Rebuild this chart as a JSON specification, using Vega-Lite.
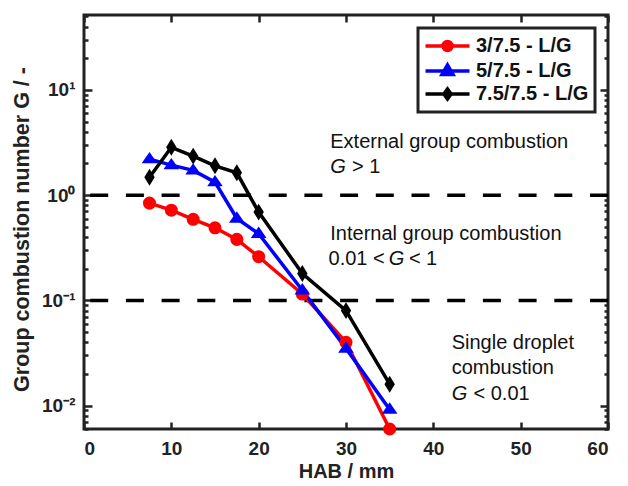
{
  "$schema": "https://vega.github.io/schema/vega-lite/v6.json",
  "width": 524,
  "height": 414,
  "autosize": "none",
  "padding": {"left": 84, "top": 15, "right": 20, "bottom": 57},
  "background": "white",
  "config": {
    "font": "Liberation Sans",
    "view": {"stroke": "#222", "strokeWidth": 3},
    "axis": {"grid": false, "domain": false, "tickColor": "#222", "labelColor": "#222", "titleColor": "#222", "labelFont": "Liberation Sans", "titleFont": "Liberation Sans"},
    "legend": {"orient": "top-right", "offset": 13, "title": null, "padding": 6, "rowPadding": 0,
      "labelFontSize": 20, "labelFontWeight": "bold", "labelColor": "#111", "labelFont": "Liberation Sans",
      "symbolSize": 400, "symbolOffset": 11.5, "labelOffset": 16.5, "symbolStrokeWidth": 3.5,
      "strokeColor": "#222", "fillColor": "white", "strokeWidth": 3}
  },
  "datasets": {
    "series": [
      {"HAB": 7.5, "G": 0.84, "case": "3/7.5 - L/G"},
      {"HAB": 10, "G": 0.72, "case": "3/7.5 - L/G"},
      {"HAB": 12.5, "G": 0.59, "case": "3/7.5 - L/G"},
      {"HAB": 15, "G": 0.49, "case": "3/7.5 - L/G"},
      {"HAB": 17.5, "G": 0.38, "case": "3/7.5 - L/G"},
      {"HAB": 20, "G": 0.26, "case": "3/7.5 - L/G"},
      {"HAB": 25, "G": 0.115, "case": "3/7.5 - L/G"},
      {"HAB": 30, "G": 0.04, "case": "3/7.5 - L/G"},
      {"HAB": 35, "G": 0.006, "case": "3/7.5 - L/G"},
      {"HAB": 7.5, "G": 2.2, "case": "5/7.5 - L/G"},
      {"HAB": 10, "G": 1.93, "case": "5/7.5 - L/G"},
      {"HAB": 12.5, "G": 1.72, "case": "5/7.5 - L/G"},
      {"HAB": 15, "G": 1.33, "case": "5/7.5 - L/G"},
      {"HAB": 17.5, "G": 0.6, "case": "5/7.5 - L/G"},
      {"HAB": 20, "G": 0.43, "case": "5/7.5 - L/G"},
      {"HAB": 25, "G": 0.125, "case": "5/7.5 - L/G"},
      {"HAB": 30, "G": 0.035, "case": "5/7.5 - L/G"},
      {"HAB": 35, "G": 0.0092, "case": "5/7.5 - L/G"},
      {"HAB": 7.5, "G": 1.48, "case": "7.5/7.5 - L/G"},
      {"HAB": 10, "G": 2.85, "case": "7.5/7.5 - L/G"},
      {"HAB": 12.5, "G": 2.35, "case": "7.5/7.5 - L/G"},
      {"HAB": 15, "G": 1.9, "case": "7.5/7.5 - L/G"},
      {"HAB": 17.5, "G": 1.63, "case": "7.5/7.5 - L/G"},
      {"HAB": 20, "G": 0.69, "case": "7.5/7.5 - L/G"},
      {"HAB": 25, "G": 0.18, "case": "7.5/7.5 - L/G"},
      {"HAB": 30, "G": 0.08, "case": "7.5/7.5 - L/G"},
      {"HAB": 35, "G": 0.016, "case": "7.5/7.5 - L/G"}
    ],
    "thresholds": [{"G": 1}, {"G": 0.1}],
    "notes": [
      {"HAB": 28.2, "G": 2.78, "t": "External group combustion"},
      {"HAB": 30.7, "G": 1.61, "t": "> 1"},
      {"HAB": 28.0, "G": 0.216, "t": "0.01 <"},
      {"HAB": 28.2, "G": 0.373, "t": "Internal group combustion"},
      {"HAB": 37.2, "G": 0.216, "t": "< 1"},
      {"HAB": 42.1, "G": 0.0349, "t": "Single droplet"},
      {"HAB": 42.1, "G": 0.0202, "t": "combustion"},
      {"HAB": 44.6, "G": 0.01125, "t": "< 0.01"}
    ],
    "italics": [
      {"HAB": 28.2, "G": 1.61, "t": "G"},
      {"HAB": 34.9, "G": 0.216, "t": "G"},
      {"HAB": 42.1, "G": 0.01125, "t": "G"}
    ]
  },
  "layer": [
    {
      "data": {"name": "thresholds"},
      "mark": {"type": "rule", "color": "black", "strokeWidth": 3.5, "strokeDash": [18, 17.7]},
      "encoding": {
        "y": {"field": "G", "type": "quantitative", "scale": {"type": "log", "domain": [0.006, 51.5], "nice": false}, "axis": null}
      }
    },
    {
      "data": {"name": "series"},
      "mark": {"type": "line", "strokeWidth": 3.5},
      "encoding": {
        "x": {"field": "HAB", "type": "quantitative", "scale": {"domain": [0, 60], "nice": false},
          "axis": {"orient": "bottom", "values": [0, 10, 20, 30, 40, 50, 60], "tickSize": -7, "tickWidth": 2.5, "labelFontSize": 19, "labelFontWeight": "bold", "labelPadding": 17, "title": "HAB / mm", "titleFontSize": 20, "titleFontWeight": "bold", "titlePadding": 3}},
        "y": {"field": "G", "type": "quantitative", "scale": {"type": "log", "domain": [0.006, 51.5], "nice": false},
          "axis": {"orient": "left",
            "values": [0.006, 0.007, 0.008, 0.009, 0.01, 0.02, 0.03, 0.04, 0.05, 0.06, 0.07, 0.08, 0.09, 0.1, 0.2, 0.3, 0.4, 0.5, 0.6, 0.7, 0.8, 0.9, 1, 2, 3, 4, 5, 6, 7, 8, 9, 10, 20, 30, 40, 50],
            "labelExpr": "datum.value == 0.01 ? '10⁻²' : datum.value == 0.1 ? '10⁻¹' : datum.value == 1 ? '10⁰' : datum.value == 10 ? '10¹' : ''",
            "tickSize": {"condition": {"test": "datum.value == 0.01 || datum.value == 0.1 || datum.value == 1 || datum.value == 10", "value": -8}, "value": -4},
            "tickWidth": 2.5,
            "labelFontSize": 19, "labelFontWeight": "bold", "labelPadding": 17, "labelFlush": false,
            "title": "Group combustion number G / -", "titleFontSize": 21.5, "titleFontWeight": "bold", "titlePadding": 8, "titleY": 214}},
        "color": {"field": "case", "type": "nominal",
          "scale": {"domain": ["3/7.5 - L/G", "5/7.5 - L/G", "7.5/7.5 - L/G"], "range": ["#ff0000", "#0000ff", "#000000"]},
          "legend": null}
      }
    },
    {
      "data": {"name": "series"},
      "mark": {"type": "point", "filled": true, "opacity": 1, "strokeWidth": 1},
      "encoding": {
        "x": {"field": "HAB", "type": "quantitative", "scale": {"domain": [0, 60], "nice": false},
          "axis": {"orient": "top", "values": [0, 10, 20, 30, 40, 50, 60], "tickSize": -7, "tickWidth": 2.5, "labels": false, "title": null}},
        "y": {"field": "G", "type": "quantitative", "scale": {"type": "log", "domain": [0.006, 51.5], "nice": false},
          "axis": {"orient": "right",
            "values": [0.006, 0.007, 0.008, 0.009, 0.01, 0.02, 0.03, 0.04, 0.05, 0.06, 0.07, 0.08, 0.09, 0.1, 0.2, 0.3, 0.4, 0.5, 0.6, 0.7, 0.8, 0.9, 1, 2, 3, 4, 5, 6, 7, 8, 9, 10, 20, 30, 40, 50],
            "tickSize": {"condition": {"test": "datum.value == 0.01 || datum.value == 0.1 || datum.value == 1 || datum.value == 10", "value": -8}, "value": -4},
            "tickWidth": 2.5, "labels": false, "title": null}},
        "color": {"field": "case", "type": "nominal", "legend": null,
          "scale": {"domain": ["3/7.5 - L/G", "5/7.5 - L/G", "7.5/7.5 - L/G"], "range": ["#ff0000", "#0000ff", "#000000"]}},
        "shape": {"field": "case", "type": "nominal", "legend": null,
          "scale": {"domain": ["3/7.5 - L/G", "5/7.5 - L/G", "7.5/7.5 - L/G"],
            "range": ["circle", "M-1.2,0.65L0,-1.1L1.2,0.65Z", "M0,-1.3L0.8,0L0,1.3L-0.8,0Z"]}},
        "size": {"value": 170}
      }
    },
    {
      "data": {"name": "series"},
      "transform": [{"filter": "false"}],
      "mark": {"type": "point", "filled": false, "opacity": 1, "strokeWidth": 3.5},
      "encoding": {
        "x": {"field": "HAB", "type": "quantitative", "axis": null},
        "y": {"field": "G", "type": "quantitative", "axis": null},
        "color": {"field": "case", "type": "nominal", "legend": {},
          "scale": {"domain": ["3/7.5 - L/G", "5/7.5 - L/G", "7.5/7.5 - L/G"], "range": ["#ff0000", "#0000ff", "#000000"]}},
        "shape": {"field": "case", "type": "nominal",
          "scale": {"domain": ["3/7.5 - L/G", "5/7.5 - L/G", "7.5/7.5 - L/G"],
            "range": [
              "M-2.2,0H2.2M-0.45,0A0.45,0.45 0 1,0 0.45,0A0.45,0.45 0 1,0 -0.45,0M-0.15,0A0.15,0.15 0 1,0 0.15,0A0.15,0.15 0 1,0 -0.15,0",
              "M-2.2,0H2.2M-0.55,0.35L0,-0.6L0.55,0.35ZM-0.22,0.16L0,-0.22L0.22,0.16Z",
              "M-2.2,0H2.2M0,-0.5L0.36,0L0,0.5L-0.36,0ZM0,-0.3V0.3"
            ]},
          "legend": {}},
        "size": {"value": 400}
      }
    },
    {
      "data": {"name": "notes"},
      "mark": {"type": "text", "align": "left", "baseline": "alphabetic", "fontSize": 20, "color": "#111"},
      "encoding": {
        "x": {"field": "HAB", "type": "quantitative", "axis": null},
        "y": {"field": "G", "type": "quantitative", "axis": null},
        "text": {"field": "t"}
      }
    },
    {
      "data": {"name": "italics"},
      "mark": {"type": "text", "align": "left", "baseline": "alphabetic", "fontSize": 20, "fontStyle": "italic", "color": "#111"},
      "encoding": {
        "x": {"field": "HAB", "type": "quantitative", "axis": null},
        "y": {"field": "G", "type": "quantitative", "axis": null},
        "text": {"field": "t"}
      }
    }
  ],
  "resolve": {"axis": {"x": "independent", "y": "independent"}, "scale": {"shape": "independent", "color": "independent"}}
}
